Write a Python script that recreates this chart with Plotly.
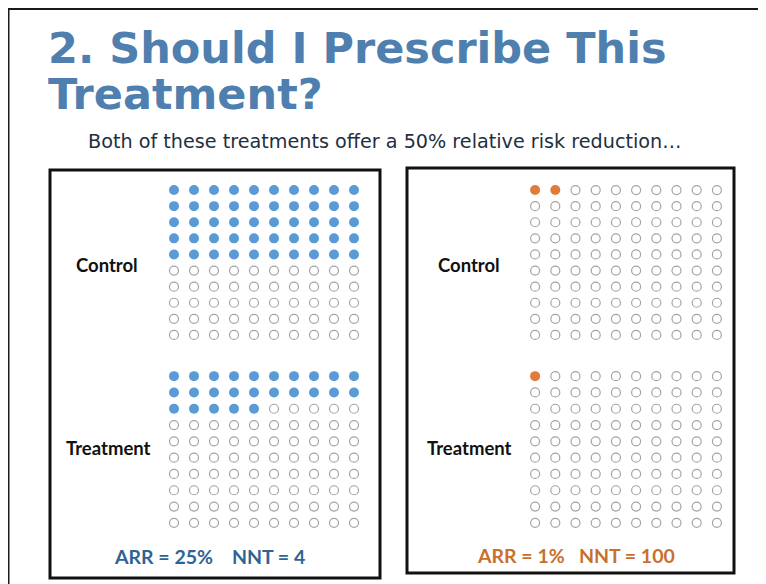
import plotly.graph_objects as go

# The page body has an 8px default margin, so the figure is drawn 8px in
# from the window edge; sizes and positions below account for that.
OFF = 8
W, H = 766 - OFF, 584 - OFF

# ---- data ----
panels = ["left", "right"]
groups = ["Control", "Treatment"]
control_events = [50, 2]      # people (out of 100) with the outcome
treatment_events = [25, 1]
population = 100
grid_cols = 10
arr_labels = ["ARR = 25%", "ARR = 1%"]
nnt_labels = ["NNT = 4", "NNT = 100"]
stat_gaps = [4, 3]
event_colors = ["#5B9BD5", "#E07B39"]
stat_colors = ["#2F6494", "#C8702F"]

title_line1 = "2. Should I Prescribe This"
title_line2 = "Treatment?"
subtitle = "Both of these treatments offer a 50% relative risk reduction\u2026"

# ---- layout geometry (window pixels) ----
def px(x):
    return (x - OFF) / W

def py(y):
    return 1 - (y - OFF) / H

panel_boxes = [(50, 170, 380, 578), (407, 168, 734, 573)]
col_domains = [(164, 364), (525, 727)]
row_domains = {"Control": (182, 343), "Treatment": (368, 531)}
label_pos = {("left", "Control"): (107, 265), ("left", "Treatment"): (108, 448),
             ("right", "Control"): (469, 265), ("right", "Treatment"): (469, 448)}
stat_pos = [(209, 556), (576, 555)]

fig = go.Figure()
layout_axes = {}
ax_i = 0
for p_i, pname in enumerate(panels):
    for g in groups:
        ax_i += 1
        events = control_events[p_i] if g == "Control" else treatment_events[p_i]
        idx = list(range(population))
        cols = [i % grid_cols for i in idx]
        rows = [i // grid_cols for i in idx]
        filled = [i < events for i in idx]
        xs_f = [c for c, f in zip(cols, filled) if f]
        ys_f = [r for r, f in zip(rows, filled) if f]
        xs_e = [c for c, f in zip(cols, filled) if not f]
        ys_e = [r for r, f in zip(rows, filled) if not f]
        xa = "x" if ax_i == 1 else f"x{ax_i}"
        ya = "y" if ax_i == 1 else f"y{ax_i}"
        fig.add_trace(go.Scatter(x=xs_e, y=ys_e, mode="markers", xaxis=xa, yaxis=ya,
                                 marker=dict(symbol="circle", size=9, color="white",
                                             line=dict(color="#A4A4A4", width=1.2)),
                                 hoverinfo="skip", showlegend=False))
        fig.add_trace(go.Scatter(x=xs_f, y=ys_f, mode="markers", xaxis=xa, yaxis=ya,
                                 marker=dict(symbol="circle", size=10, color=event_colors[p_i],
                                             line=dict(width=0)),
                                 hoverinfo="skip", showlegend=False))
        cd = col_domains[p_i]
        rd = row_domains[g]
        key = "" if ax_i == 1 else str(ax_i)
        layout_axes[f"xaxis{key}"] = dict(domain=[px(cd[0]), px(cd[1])], range=[-0.5, grid_cols - 0.5],
                                          visible=False, fixedrange=True, anchor=ya)
        layout_axes[f"yaxis{key}"] = dict(domain=[py(rd[1]), py(rd[0])],
                                          range=[population // grid_cols - 0.5, -0.5],
                                          visible=False, fixedrange=True, anchor=xa)

fig.update_layout(**layout_axes)

shapes = []
# slide frame (top and left edges)
shapes.append(dict(type="line", xref="paper", yref="paper", x0=px(7.5), y0=py(9), x1=1.0, y1=py(9),
                   line=dict(color="#1a1a1a", width=2)))
shapes.append(dict(type="line", xref="paper", yref="paper", x0=px(8.5), y0=py(9), x1=px(8.5), y1=0,
                   line=dict(color="#1a1a1a", width=2)))
for (x0, y0, x1, y1) in panel_boxes:
    shapes.append(dict(type="rect", xref="paper", yref="paper", x0=px(x0), y0=py(y1), x1=px(x1), y1=py(y0),
                       line=dict(color="#111111", width=3), fillcolor="rgba(0,0,0,0)"))

annotations = []
annotations.append(dict(text=f"<b>{title_line1}</b>", x=px(46), y=py(48), xref="paper", yref="paper",
                        xanchor="left", yanchor="middle", showarrow=False,
                        font=dict(family="DejaVu Sans", size=43, color="#4F7FAE")))
annotations.append(dict(text=f"<b>{title_line2}</b>", x=px(46), y=py(94), xref="paper", yref="paper",
                        xanchor="left", yanchor="middle", showarrow=False,
                        font=dict(family="DejaVu Sans", size=43, color="#4F7FAE")))
annotations.append(dict(text=subtitle, x=px(384), y=py(142), xref="paper", yref="paper",
                        xanchor="center", yanchor="middle", showarrow=False,
                        font=dict(family="DejaVu Sans", size=19.2, color="#1F2F40")))
for (pname, g), (lx, ly) in label_pos.items():
    annotations.append(dict(text=f"<b>{g}</b>", x=px(lx), y=py(ly), xref="paper", yref="paper",
                            xanchor="center", yanchor="middle", showarrow=False,
                            font=dict(family="Lato", size=18.5, color="#111111")))
for p_i in range(len(panels)):
    sx, sy = stat_pos[p_i]
    gap = "&nbsp;" * stat_gaps[p_i]
    annotations.append(dict(text=f"<b>{arr_labels[p_i]}{gap}{nnt_labels[p_i]}</b>",
                            x=px(sx), y=py(sy), xref="paper", yref="paper",
                            xanchor="center", yanchor="middle", showarrow=False,
                            font=dict(family="Lato", size=19.5, color=stat_colors[p_i])))

fig.update_layout(width=W, height=H, margin=dict(l=0, r=0, t=0, b=0),
                  paper_bgcolor="white", plot_bgcolor="rgba(0,0,0,0)",
                  shapes=shapes, annotations=annotations)

fig.write_html("out.html")
